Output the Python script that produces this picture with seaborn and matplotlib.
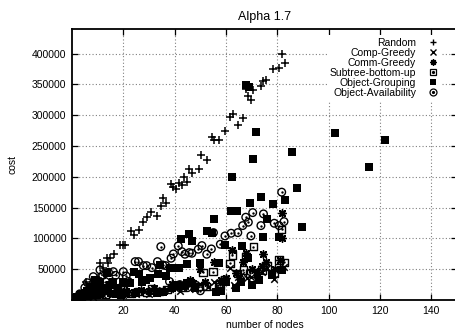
import numpy as np
import seaborn as sns
import matplotlib.pyplot as plt
from matplotlib.lines import Line2D
from matplotlib.legend_handler import HandlerTuple

# values (number of nodes, cost)
random_x = [2, 3, 4, 5, 5.5, 6, 7, 8, 9, 10, 11, 12, 13, 13.5, 14, 15, 16.4, 18.7, 19.7, 20.7,
            23, 24.2, 26, 27.5, 29.4, 30.7, 33.3, 34.6, 35.3, 36.5, 38.5, 39.5, 40.5, 41.8, 42.8,
            43.7, 44.7, 45.7, 46.7, 49.6, 50.3, 52.5, 54.6, 55.5, 57.4, 59.6, 61.6, 62.6, 64.5,
            66.5, 67.7, 68.7, 69.7, 70.7, 73.7, 74.6, 75.6, 78.2, 80.6, 81.8, 82.8]
random_y = [6000, 9000, 12000, 15000, 29000, 18000, 24000, 20000, 30000, 35000, 60000, 52000, 40000,
            68000, 60000, 68000, 75000, 90000, 90000, 90000,
            112000, 106000, 113000, 127000, 135000, 143000, 137000, 152000, 165000, 158000, 188000,
            183000, 180000, 190000, 186000, 199000, 192000, 213000, 207000, 213000, 236000, 228000,
            265000, 259000, 259000, 274000, 297000, 302000, 284000, 295000, 343000, 332000, 325000,
            341000, 347000, 355000, 357000, 375000, 377000, 399000, 385000]

comp_x = [2, 4, 6, 8, 10, 12, 14, 16, 18, 20, 22, 25, 28, 30, 33, 35, 38, 40, 42, 44, 46, 48, 50,
          53, 55.5, 57.7, 59.5, 61.6, 63, 64.6, 66, 68, 69.7, 72, 74, 76, 78.8, 80.7, 82.6]
comp_y = [3000, 6000, 9000, 5000, 12000, 8000, 15000, 10000, 14000, 8000, 12000, 10000, 15000, 9000,
          12000, 16000, 18000, 20000, 14000, 22000, 25000, 18000, 26000, 21000, 30000, 27100, 31000,
          51500, 25000, 37900, 40000, 35000, 37900, 40000, 45000, 52000, 34100, 104000, 54100]

comm_x = [2, 5, 7, 9, 11, 13, 15, 17, 19, 21, 24, 27, 30, 32, 36, 39, 41, 44, 46, 47, 50, 52, 55.5,
          58, 60, 62.5, 64, 66.8, 67.7, 70, 72, 74, 74.6, 75.6, 79, 81, 81.7, 82]
comm_y = [4000, 7000, 10000, 13000, 9000, 17000, 12000, 16000, 11000, 15000, 13000, 17000, 14000,
          20000, 15000, 26000, 22000, 24000, 32000, 28000, 50000, 30000, 61300, 33000, 35000, 81300,
          44000, 62300, 76900, 50000, 46000, 55800, 74800, 62300, 50000, 65000, 140900, 100000]

subtree_x = [1, 3, 5, 7, 9, 11, 13, 15, 18, 20, 23, 26, 29, 31, 34, 37, 40, 43, 46, 49.2, 51, 52.5,
             55, 57, 57.7, 59.4, 61.6, 62.5, 64.6, 66.8, 67.7, 69.4, 70.7, 74, 76, 78.8, 80.7,
             81.7, 82.6]
subtree_y = [2000, 5000, 8000, 11000, 9000, 14000, 10000, 18000, 12000, 16000, 11000, 14000, 12000,
             18000, 14000, 17000, 24000, 20000, 28000, 21600, 45000, 21600, 46000, 21600, 24400,
             32500, 59600, 73100, 43400, 48800, 70400, 43400, 86700, 48800, 55000, 43400, 65000,
             114900, 61300]

group_x = [1, 2, 3, 4, 4, 5, 6, 6, 7, 8, 8, 9, 9, 10, 11, 11, 12, 13.5, 14, 15, 16, 17, 18, 19, 20,
           21, 22.6, 24, 25, 26.2, 27.2, 28.7, 30.4, 33, 33.7, 34.3, 35.6, 36.5, 38.2, 39, 40.4,
           41, 41.5, 42.5, 43, 44.7, 45, 45.6, 46.7, 48, 49.7, 52.5, 54.7, 55.5, 56, 57.3, 58,
           59.5, 60, 61.9, 62.5, 64, 64.2, 66, 66.3, 67.6, 68.6, 68.8, 69.5, 70, 70.7, 71.5, 73,
           73.8, 74.6, 75.8, 78, 78.5, 80.7, 82, 82.8, 85.9, 87.8, 89.8, 102.5, 115.9, 121.8]
group_y = [3000, 5000, 8000, 10000, 4000, 12000, 15000, 6000, 21600, 10000, 18000, 32500, 8000,
           25000, 12000, 30000, 20000, 43400, 15000, 25000, 29800, 10000, 20000, 8000, 30000,
           12000, 28100, 46000, 12000, 42300, 29800, 32500, 36200, 11900, 42300, 56900, 13500,
           39500, 51500, 20000, 51500, 25000, 51500, 99200, 22000, 58000, 28000, 106700, 95900,
           20000, 59600, 112200, 108400, 131700, 13000, 59600, 15000, 89400, 30000, 144700,
           199400, 20000, 144700, 30000, 87800, 349500, 67700, 345700, 157100, 25000, 228700,
           272600, 32000, 166900, 102400, 131700, 40000, 155500, 102400, 48000, 162500, 240000,
           181500, 118200, 271000, 215700, 259600]

avail_x = [3, 5, 6, 8.3, 9, 10.9, 12, 13, 14.2, 16.1, 17, 19, 20, 21.1, 22, 24.6, 25.9, 27.8, 29.1,
           31.1, 33.3, 34.6, 35.3, 36.5, 38, 38.6, 39.5, 41.4, 42, 42.8, 44, 45, 45.7, 46.7, 49.2,
           50, 50.6, 52.5, 54.3, 55.1, 57.8, 59.6, 62, 64.6, 66.5, 67.7, 68.7, 69.7, 70.4, 73.6,
           74.6, 78.8, 80.7, 81.7, 82.6]
avail_y = [10000, 20000, 28000, 37900, 25000, 48800, 40000, 30000, 45000, 46000, 40000, 20000,
           46000, 39000, 30000, 62300, 62300, 55800, 55800, 52500, 62300, 86700, 56900, 55800,
           30000, 67800, 74800, 87800, 25000, 78500, 74300, 20000, 76900, 75900, 82400, 15000,
           88300, 74300, 82900, 109400, 90500, 104000, 108400, 109400, 120800, 134400, 126300,
           104000, 141900, 120800, 139800, 124600, 120800, 175100, 127300]

labels = ['Random', 'Comp-Greedy', 'Comm-Greedy', 'Subtree-bottom-up', 'Object-Grouping',
          'Object-Availability']

plt.rcParams['font.family'] = ['Liberation Sans', 'DejaVu Sans']
plt.rcParams['font.size'] = 7.5

fig = plt.figure(figsize=(4.56, 3.33), dpi=100)
ax = fig.add_axes([72 / 456, 1 - 300 / 333, 385 / 456, 271 / 333])

sns.scatterplot(x=random_x, y=random_y, marker='+', s=36, color='black', linewidth=1.1, ax=ax)
sns.scatterplot(x=comp_x, y=comp_y, marker='x', s=22, color='black', linewidth=1.1, ax=ax)
sns.scatterplot(x=comm_x, y=comm_y, marker=(8, 2, 0), s=28, color='black', linewidth=1.1, ax=ax)
sns.scatterplot(x=subtree_x, y=subtree_y, marker='s', s=28, facecolors='none', edgecolors='black',
                linewidth=1.0, ax=ax)
sns.scatterplot(x=subtree_x, y=subtree_y, marker='o', s=3, color='black', edgecolor='black',
                linewidth=0, ax=ax)
sns.scatterplot(x=group_x, y=group_y, marker='s', s=36, color='black', edgecolor='black',
                linewidth=0, ax=ax)
sns.scatterplot(x=avail_x, y=avail_y, marker='o', s=30, facecolors='none', edgecolors='black',
                linewidth=1.0, ax=ax)
sns.scatterplot(x=avail_x, y=avail_y, marker='o', s=3, color='black', edgecolor='black',
                linewidth=0, ax=ax)

ax.set_xlim(0, 150)
ax.set_ylim(0, 440000)
ax.set_xticks(np.arange(20, 141, 20))
ax.set_yticks(np.arange(50000, 400001, 50000))
ax.tick_params(direction='in', top=True, right=True, length=4, width=0.9, pad=4)
ax.grid(True, color='0.5', linestyle=(0, (1, 2)), linewidth=0.8)
ax.set_axisbelow(True)
for sp in ax.spines.values():
    sp.set_linewidth(1.3)

ax.set_title('Alpha 1.7', pad=6.5)
ax.set_xlabel('number of nodes', labelpad=3)
ax.set_ylabel('cost', labelpad=10)

handles = [
    Line2D([], [], ls='none', marker='+', ms=5, mew=1, color='black'),
    Line2D([], [], ls='none', marker='x', ms=4, mew=1, color='black'),
    Line2D([], [], ls='none', marker=(8, 2, 0), ms=4.5, mew=1, color='black'),
    (Line2D([], [], ls='none', marker='s', ms=4.5, mew=0.9, mfc='none', mec='black'),
     Line2D([], [], ls='none', marker='o', ms=1.3, color='black')),
    Line2D([], [], ls='none', marker='s', ms=5, mew=0, color='black'),
    (Line2D([], [], ls='none', marker='o', ms=5, mew=0.9, mfc='none', mec='black'),
     Line2D([], [], ls='none', marker='o', ms=1.3, color='black')),
]
leg = ax.legend(handles, labels, loc='upper right', bbox_to_anchor=(0.975, 0.998),
                markerfirst=False, handlelength=1.2, handletextpad=1.0, labelspacing=0.0,
                borderpad=0.3, frameon=True, fancybox=False, framealpha=1,
                handler_map={tuple: HandlerTuple(ndivide=1)})
leg.get_frame().set_edgecolor('none')
leg.get_frame().set_facecolor('white')

plt.savefig('out.png', dpi=100)
